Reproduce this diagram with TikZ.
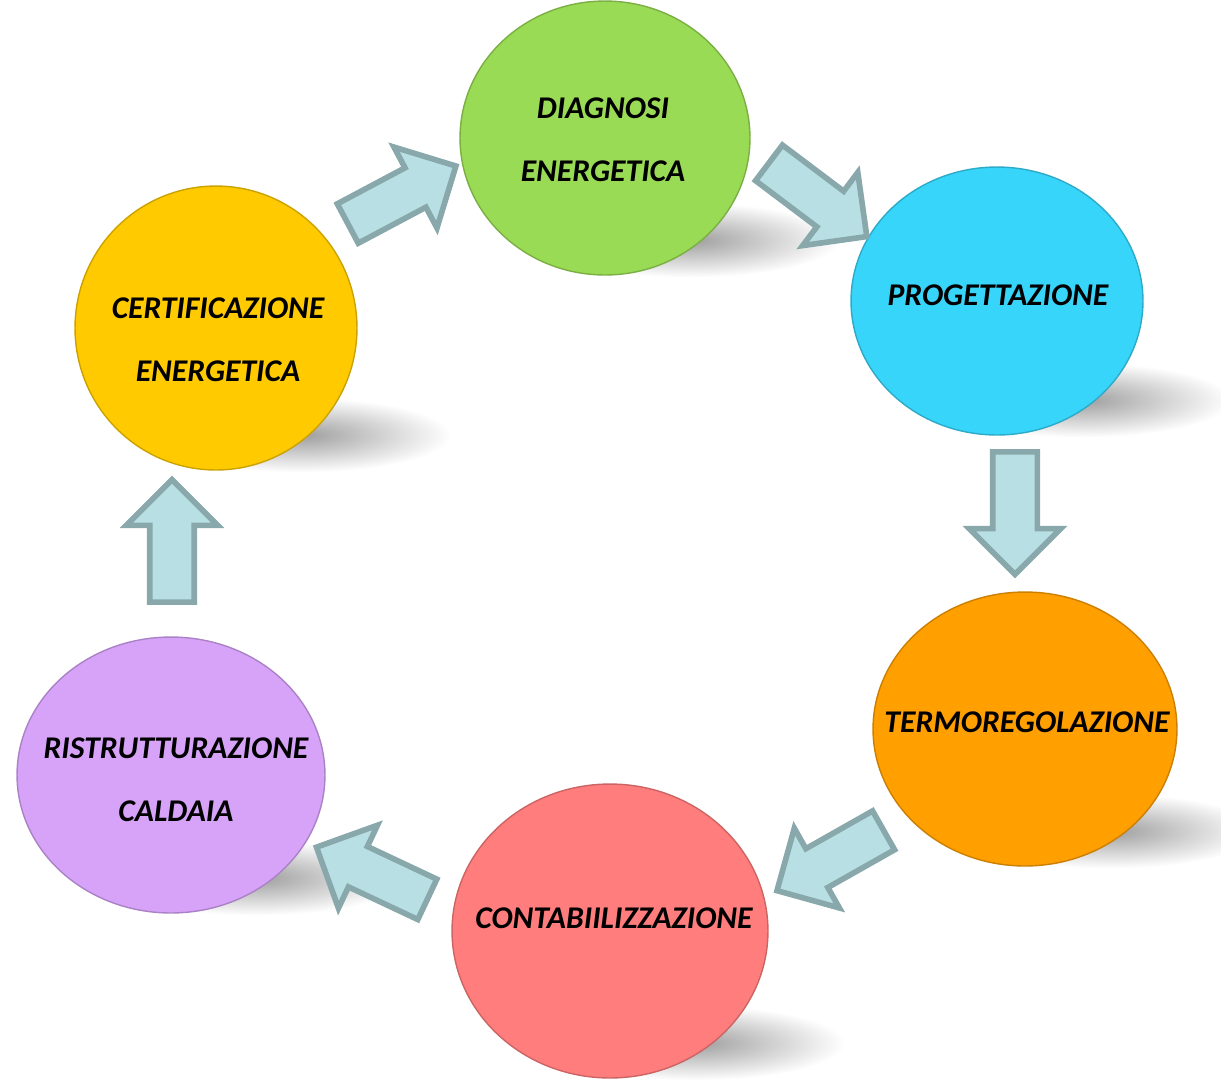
\documentclass[tikz,border=0pt]{standalone}
\usepackage{fontspec}
\setmainfont{Carlito}
\usetikzlibrary{shapes.geometric,shapes.arrows}

\definecolor{verde}{HTML}{9ADB55}
\definecolor{azzurro}{HTML}{38D5FA}
\definecolor{arancio}{HTML}{FF9F00}
\definecolor{rosa}{HTML}{FF7D7D}
\definecolor{lilla}{HTML}{D6A3F8}
\definecolor{giallo}{HTML}{FFCB00}
\definecolor{frecciafill}{HTML}{B8DFE3}
\definecolor{frecciabordo}{HTML}{88A8AB}

\tikzset{
  fase/.style={ellipse, draw=#1!80!black, line width=0.8pt, fill=#1, inner sep=0pt},
  ombra/.style={shading=radial, inner color=black!38, outer color=white},
  freccia/.style={single arrow, draw=frecciabordo, fill=frecciafill, line width=3.2pt,
    minimum height=2.45cm, inner sep=0.39cm, single arrow head extend=0.47cm},
  testo/.style={align=center, font=\bfseries\itshape\fontsize{18}{36}\selectfont}
}

\begin{document}
\begin{tikzpicture}[x=0.02cm,y=-0.02cm]
        \useasboundingbox (0,0) rectangle (1221,1080);
        % shadows under the circles
        \shade[ombra] (690,240) ellipse [x radius=3cm, y radius=0.75cm];
        \shade[ombra] (1082,400) ellipse [x radius=3cm, y radius=0.75cm];
        \shade[ombra] (1110,831) ellipse [x radius=3cm, y radius=0.75cm];
        \shade[ombra] (695,1043) ellipse [x radius=3cm, y radius=0.75cm];
        \shade[ombra] (256,878) ellipse [x radius=3cm, y radius=0.75cm];
        \shade[ombra] (301,435) ellipse [x radius=3cm, y radius=0.75cm];
        % the six phases
        \node[fase=verde, minimum width=5.8cm, minimum height=5.48cm] at (605,138) (diag) {};
        \node[fase=azzurro, minimum width=5.84cm, minimum height=5.36cm] at (997,301) (prog) {};
        \node[fase=arancio, minimum width=6.08cm, minimum height=5.48cm] at (1025,729) (termo) {};
        \node[fase=rosa, minimum width=6.32cm, minimum height=5.88cm] at (610,931) (contab) {};
        \node[fase=lilla, minimum width=6.16cm, minimum height=5.52cm] at (171,775) (ristr) {};
        \node[fase=giallo, minimum width=5.64cm, minimum height=5.68cm] at (216,328) (certif) {};
        \node[testo] at (603,140) (tdiag) {DIAGNOSI\\ENERGETICA};
        \node[testo] at (998,295) (tprog) {PROGETTAZIONE};
        \node[testo] at (1027,722) (ttermo) {TERMOREGOLAZIONE};
        \node[testo] at (614,918) (tcontab) {CONTABIILIZZAZIONE};
        \node[testo] at (176,780) (tristr) {RISTRUTTURAZIONE\\CALDAIA};
        \node[testo] at (218,340) (tcertif) {CERTIFICAZIONE\\ENERGETICA};
        % block arrows of the cycle
        \node[freccia, rotate=28] at (392,200) (f1) {};
        \node[freccia, rotate=-37] at (809,193) (f2) {};
        \node[freccia, rotate=-90] at (1015,502) (f3) {};
        \node[freccia, rotate=209.5] at (840,855) (f4) {};
        \node[freccia, rotate=154.8] at (382,878) (f5) {};
        \node[freccia, rotate=90] at (172,552) (f6) {};
\end{tikzpicture}
\end{document}
